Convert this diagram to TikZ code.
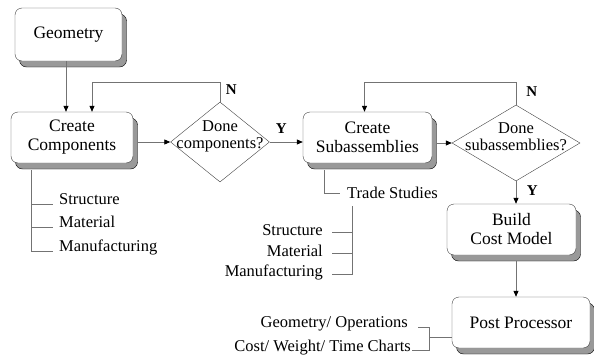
\documentclass[tikz,border=0pt]{standalone}
\usepackage{fontspec}
\setmainfont{Liberation Serif}
\usetikzlibrary{arrows.meta}
\usetikzlibrary{shadows}
\usetikzlibrary{shapes.geometric}
\usetikzlibrary{calc,positioning}

\begin{document}
\begin{tikzpicture}[x=1pt,y=-1pt,>={Triangle[length=6pt,width=5pt,color=black]},
    process/.style={
        draw=black!75, fill=white, rounded corners=7pt,
        align=center, inner sep=0pt,
        font=\fontsize{17.5}{19}\selectfont,
        drop shadow={shadow xshift=4.5pt, shadow yshift=-6pt,
            fill=black!40, draw=black, opacity=1}
    },
    decision/.style={diamond, draw=black!75, inner sep=0pt},
    dtext/.style={align=center, inner sep=0pt, font=\fontsize{16.5}{17}\selectfont},
    item/.style={inner sep=0pt, font=\fontsize{16.5}{18}\selectfont},
    answer/.style={inner sep=0pt, font=\fontsize{15}{16}\selectfont\bfseries},
    flow/.style={draw=black!55, line width=0.8pt, ->},
    branch/.style={draw=black!55, line width=0.8pt}
]

\useasboundingbox (0,0) rectangle (594,356);

%%% boxes
    \node[process, minimum width=107pt, minimum height=53pt] (geo) at (68.5,34.5) {Geometry};
    \node[process, minimum width=122pt, minimum height=51pt] (cc) at (72,137.5) {Create\\Components};
    \node[process, minimum width=129pt, minimum height=51pt] (cs) at (367.5,137.5) {Create\\Subassemblies};
    \node[process, minimum width=129pt, minimum height=51pt] (bcm) at (511.5,229.5) {Build\\Cost Model};
    \node[process, minimum width=138pt, minimum height=51pt] (pp) at (521,322.5) {Post Processor};

%%% decisions
    \node[decision, minimum width=99pt, minimum height=80pt] (d1) at (220,142) {};
    \node[dtext] (d1text) at ([yshift=6pt]d1.center) {Done\\components?};
    \node[decision, minimum width=128pt, minimum height=76pt] (d2) at (516,143) {};
    \node[dtext] (d2text) at ([yshift=6pt]d2.center) {Done\\subassemblies?};

%%% flow
    \draw[flow] ([xshift=-2.5pt]geo.south) -- ([xshift=-2.5pt]geo.south |- cc.north);
    \draw[flow] ([xshift=4.5pt]cc.east |- d1.west) -- (d1.west);
    \draw[flow] (d1.north) -- node[answer, right=5.5pt, pos=0.65]{N} ++(0,-19) -| ([xshift=20pt]cc.north);
    \draw[flow] (d1.east) -- node[answer, above=8pt, pos=0.35]{Y} (d1.east -| cs.west);
    \draw[flow] ([xshift=4.5pt]cs.east |- d2.west) -- (d2.west);
    \draw[flow] (d2.north) -- node[answer, right=10pt, pos=0.61]{N} ++(0,-22) -| ([xshift=-3pt]cs.north);
    \draw[flow] (d2.south) -- node[answer, right=10.5pt, pos=0.43]{Y} (d2.south |- bcm.north);
    \draw[flow] ([yshift=-6pt]bcm.south -| d2.south) -- (d2.south |- pp.north);

%%% component tree
    \node[item, anchor=base west] (cstruct) at (59,204) {Structure};
    \node[item, anchor=base west] (cmat) at (59,227) {Material};
    \node[item, anchor=base west] (cmanu) at (59,251) {Manufacturing};
    \coordinate (cctree) at ([xshift=21pt,yshift=-7pt]cc.south west);
    \draw[branch] (cctree) |- ([xshift=-6pt]cmanu.base west);
    \draw[branch] (cctree |- cstruct.base) -- ([xshift=-6pt]cstruct.base west);
    \draw[branch] (cctree |- cmat.base) -- ([xshift=-6pt]cmat.base west);

%%% subassembly tree
    \node[item, anchor=west] (trade) at (347,193) {Trade Studies};
    \coordinate (cstree) at ([xshift=22pt,yshift=-7pt]cs.south west);
    \draw[branch] (cstree) |- ([xshift=-7pt]trade.west);

    \node[item, anchor=base east] (sstruct) at (323,235) {Structure};
    \node[item, anchor=base east] (smat) at (323,256) {Material};
    \node[item, anchor=base east] (smanu) at (323,276.5) {Manufacturing};
    \coordinate (tstree) at ([xshift=5pt,yshift=-7pt]trade.south west);
    \draw[branch] (tstree) |- ([xshift=9pt,yshift=2.5pt]smanu.base east);
    \draw[branch] ([xshift=9pt,yshift=3pt]sstruct.base east) -- ([yshift=3pt]sstruct.base -| tstree);
    \draw[branch] ([xshift=9pt,yshift=3pt]smat.base east) -- ([yshift=3pt]smat.base -| tstree);

%%% post processor outputs
    \node[item, anchor=base east] (ppgeo) at (408,327) {Geometry/ Operations};
    \node[item, anchor=base east] (ppcost) at (411,351) {Cost/ Weight/ Time Charts};
    \coordinate (ppjoin) at ([xshift=-22pt,yshift=-15pt]pp.west);
    \draw[branch] ([xshift=10pt]ppgeo.base east) -| ([yshift=1pt]ppcost.base -| ppjoin) -- ([xshift=1pt,yshift=1pt]ppcost.base east);
    \draw[branch] (ppjoin) -- (ppjoin -| pp.west);

\end{tikzpicture}
\end{document}
